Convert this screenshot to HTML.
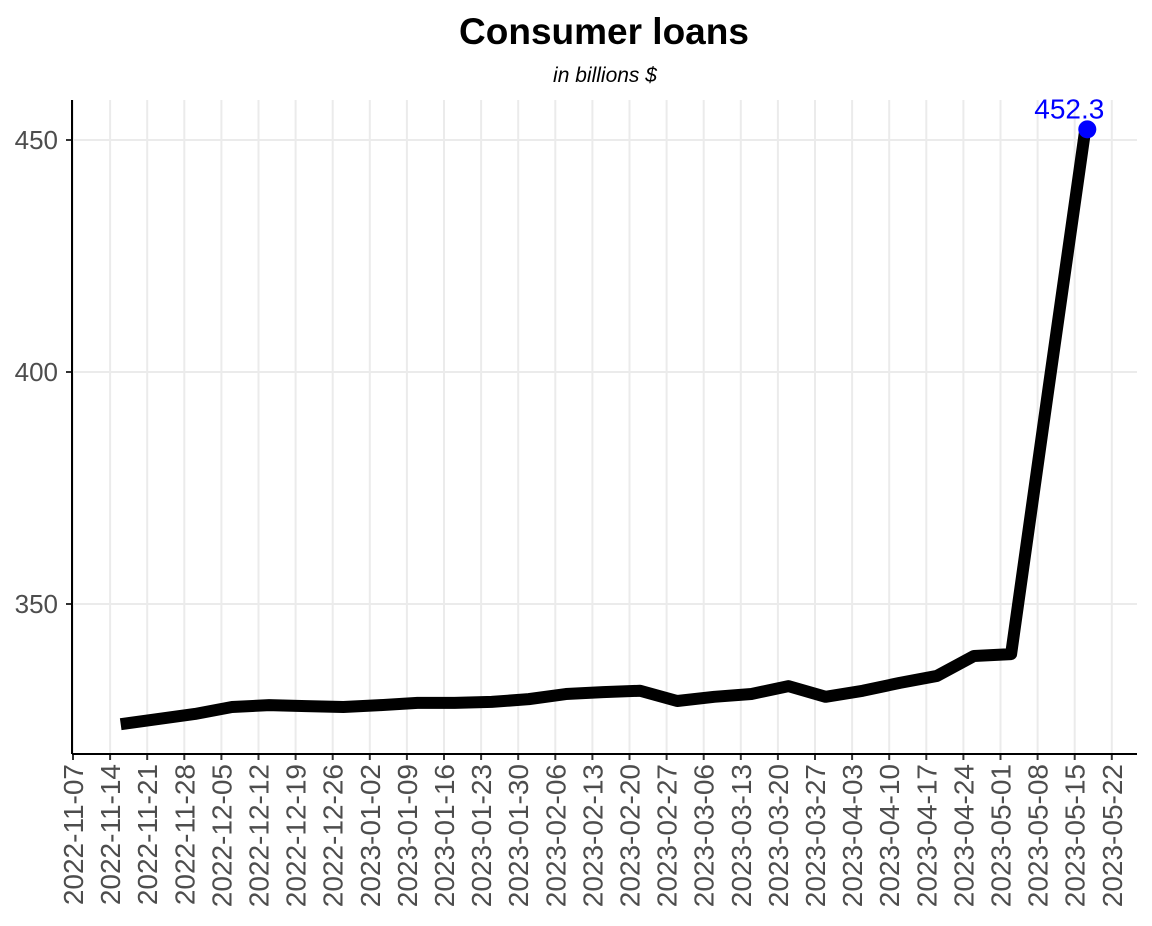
<!DOCTYPE html>
<html><head><meta charset="utf-8"><style>
body{margin:0;background:#fff;font-family:"Liberation Sans",Arial,sans-serif;}
</style></head><body>
<svg id="chart" width="1152" height="921" xmlns="http://www.w3.org/2000/svg">
<rect width="1152" height="921" fill="#fff"/>
<text x="604" y="44" text-anchor="middle" font-size="37" font-weight="bold" font-family="Liberation Sans, sans-serif">Consumer loans</text>
<text x="605" y="82" text-anchor="middle" font-size="21" font-style="italic" font-family="Liberation Sans, sans-serif">in billions $</text>
<g id="grid"></g><g id="axes"></g><g id="series"></g>
</svg>
<script>
const weekTicks = ["2022-11-07","2022-11-14","2022-11-21","2022-11-28","2022-12-05","2022-12-12","2022-12-19","2022-12-26","2023-01-02","2023-01-09","2023-01-16","2023-01-23","2023-01-30","2023-02-06","2023-02-13","2023-02-20","2023-02-27","2023-03-06","2023-03-13","2023-03-20","2023-03-27","2023-04-03","2023-04-10","2023-04-17","2023-04-24","2023-05-01","2023-05-08","2023-05-15","2023-05-22"];
const yTicks = [350,400,450];
const dates = ["2022-11-16","2022-11-23","2022-11-30","2022-12-07","2022-12-14","2022-12-21","2022-12-28","2023-01-04","2023-01-11","2023-01-18","2023-01-25","2023-02-01","2023-02-08","2023-02-15","2023-02-22","2023-03-01","2023-03-08","2023-03-15","2023-03-22","2023-03-29","2023-04-05","2023-04-12","2023-04-19","2023-04-26","2023-05-03","2023-05-10","2023-05-17"];
const values = [324.1,325.2,326.3,327.8,328.2,328.0,327.8,328.2,328.7,328.7,328.9,329.5,330.6,331.0,331.3,329.1,330.0,330.6,332.3,330.0,331.3,333.0,334.5,338.8,339.2,396.0,452.3];

const NS="http://www.w3.org/2000/svg";
const L=72,R=1137,T=100,B=754;
const t0=Date.parse("2022-11-07"), wk=7*86400000;
function x(d){return 73+37.1*((Date.parse(d)-t0)/wk);}
function y(v){return 140+(450-v)*4.64;}
function mk(tag,attrs,parent){const e=document.createElementNS(NS,tag);for(const k in attrs)e.setAttribute(k,attrs[k]);parent.appendChild(e);return e;}
const grid=document.getElementById('grid'),axes=document.getElementById('axes'),series=document.getElementById('series');
weekTicks.forEach(d=>{
  const gx=x(d);
  const gl=mk('line',{x1:gx,x2:gx,y1:T,y2:B,stroke:'#ebebeb','stroke-width':2},grid);
  
  
  const tk=mk('line',{x1:gx,x2:gx,y1:B,y2:B+6,stroke:'#333','stroke-width':2},axes);
  
  
  const tl=mk('text',{x:0,y:0,transform:`translate(${gx+10},${B+10}) rotate(-90)`,'text-anchor':'end','font-size':28,fill:'#4d4d4d','font-family':'Liberation Sans, sans-serif'},axes);
  tl.textContent=d;
  
  
});
yTicks.forEach(v=>{
  const gy=y(v);
  const gl=mk('line',{x1:L,x2:R,y1:gy,y2:gy,stroke:'#ebebeb','stroke-width':2},grid);
  
  
  const tk=mk('line',{x1:L-6,x2:L,y1:gy,y2:gy,stroke:'#333','stroke-width':2},axes);
  
  
  const tl=mk('text',{x:L-14,y:gy+9,'text-anchor':'end','font-size':26,fill:'#4d4d4d','font-family':'Liberation Sans, sans-serif'},axes);
  tl.textContent=v;
  
  
});
const xa=mk('line',{x1:L,x2:R,y1:B,y2:B,stroke:'#000','stroke-width':2},axes);


const ya=mk('line',{x1:L,x2:L,y1:T,y2:B,stroke:'#000','stroke-width':2},axes);


const pts=dates.map((d,i)=>x(d)+','+y(values[i])).join(' ');
const pl=mk('polyline',{points:pts,fill:'none',stroke:'#000','stroke-width':12,'stroke-linejoin':'round'},series);


const n=dates.length-1;
const dot=mk('circle',{cx:x(dates[n])+2,cy:y(values[n]),r:9,fill:'#0000ff'},series);


const lab=mk('text',{x:x(dates[n])-16,y:y(values[n])-11,'text-anchor':'middle','font-size':28,fill:'#0000ff','font-family':'Liberation Sans, sans-serif'},series);
lab.textContent=values[n].toFixed(1);


</script>
</body></html>
